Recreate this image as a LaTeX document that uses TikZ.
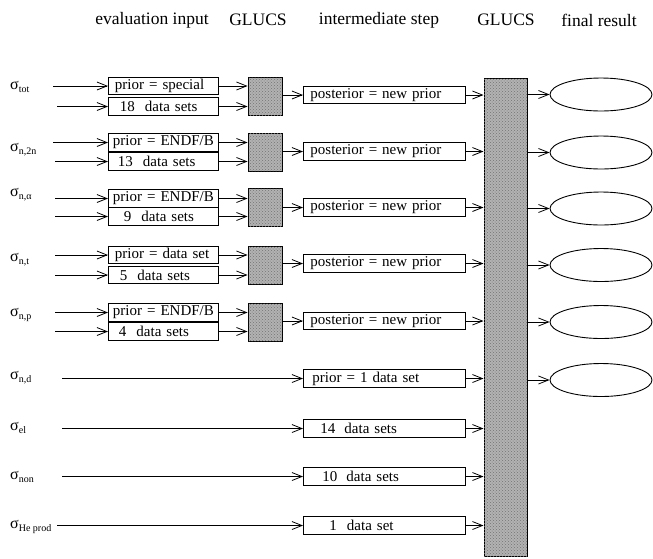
\documentclass[tikz,border=0pt]{standalone}
\usepackage{fontspec}
\setmainfont{Liberation Serif}
\usetikzlibrary{arrows.meta,shapes.geometric,patterns}
\newcommand\mysub[1]{\raisebox{-3pt}{\fontsize{10}{10}\selectfont #1}}
\begin{document}
\begin{tikzpicture}[x=1pt,y=-1pt,
 every node/.style={font=\fontsize{15}{17}\selectfont},
 arr/.style={-{Straight Barb[length=10pt,width=8pt]}, line width=0.8pt},
 hdr/.style={font=\fontsize{17.5}{20}\selectfont, inner sep=0pt},
 lab/.style={anchor=west, inner sep=0pt, font=\fontsize{16}{18}\selectfont},
 inbox/.style={draw, line width=0.9pt, minimum width=110pt, text width=101pt, align=left,
   minimum height=17.5pt, inner ysep=0pt, inner xsep=4.5pt, anchor=west},
 post/.style={draw, line width=0.9pt, minimum width=162pt, text width=148pt, align=left,
   minimum height=17.5pt, inner ysep=0pt, inner xsep=7pt, anchor=west},
 gl/.style={draw, line width=0.9pt, fill=gray!60, minimum width=34pt, minimum height=38pt, inner sep=0pt,
   postaction={pattern=crosshatch dots, pattern color=black!55}},
 colbox/.style={draw, line width=1pt, fill=gray!60, minimum width=43pt, minimum height=478pt, inner sep=0pt,
   postaction={pattern=crosshatch dots, pattern color=black!55}},
 ell/.style={draw, ellipse, line width=0.9pt, minimum width=102pt, minimum height=33pt, inner sep=0pt}
]
\useasboundingbox (0,0) rectangle (653,558);

% headers
\node[hdr] (h1) at (152,20) {evaluation input};
\node[hdr] (h2) at (258,20) {GLUCS};
\node[hdr] (h3) at (379,20) {intermediate step};
\node[hdr] (h4) at (506,20) {GLUCS};
\node[hdr] (h5) at (599,20) {final result};

% big GLUCS column
\node[colbox] (col) at (505.5,317) {};

% labels
\node[lab] (s1) at (10,87) {σ\mysub{tot}};
\node[lab] (s2) at (10,150) {σ\mysub{n,2n}};
\node[lab] (s3) at (10,195) {σ\mysub{n,α}};
\node[lab] (s4) at (10,260) {σ\mysub{n,t}};
\node[lab] (s5) at (10,315) {σ\mysub{n,p}};
\node[lab] (s6) at (10,378) {σ\mysub{n,d}};
\node[lab] (s7) at (10,428) {σ\mysub{el}};
\node[lab] (s8) at (10,477) {σ\mysub{non}};
\node[lab] (s9) at (10,527) {σ\mysub{He prod}};

% row 1
\node[inbox] (p1) at (108,86) {\hspace{2pt}prior = special};
\node[inbox] (d1) at (108,106.5) {\hspace{7pt}18\ \ data sets};
\node[gl] (g1) at (265,96) {};
\node[post] (q1) at (303,95) {posterior = new prior};
\node[ell] (e1) at (601,94.5) {};
% row 2
\node[inbox] (p2) at (108,142.5) {\mbox{prior = ENDF/B}};
\node[inbox] (d2) at (108,161.5) {\hspace{5pt}13\ \ data sets};
\node[gl] (g2) at (265,152) {};
\node[post] (q2) at (303,151.5) {posterior = new prior};
\node[ell] (e2) at (601,152.5) {};
% row 3
\node[inbox] (p3) at (108,198.5) {\mbox{prior = ENDF/B}};
\node[inbox] (d3) at (108,216.5) {\hspace{11pt}9\ \ data sets};
\node[gl] (g3) at (265,207.5) {};
\node[post] (q3) at (303,207.5) {posterior = new prior};
\node[ell] (e3) at (601,208.5) {};
% row 4
\node[inbox] (p4) at (108,255) {\hspace{2pt}prior = data set};
\node[inbox] (d4) at (108,275) {\hspace{7pt}5\ \ data sets};
\node[gl] (g4) at (265,265.5) {};
\node[post] (q4) at (303,263.5) {posterior = new prior};
\node[ell] (e4) at (601,265) {};
% row 5
\node[inbox] (p5) at (108,312.5) {\mbox{prior = ENDF/B}};
\node[inbox] (d5) at (108,331.5) {\hspace{6pt}4\ \ data sets};
\node[gl] (g5) at (265,322.5) {};
\node[post] (q5) at (303,321) {posterior = new prior};
\node[ell] (e5) at (601,322) {};
% rows 6-9
\node[post] (q6) at (303,378.5) {\hspace{2pt}prior = 1 data set};
\node[ell] (e6) at (601,380) {};
\node[post] (q7) at (303,428.5) {\hspace{10pt}14\hspace{9pt}data sets};
\node[post] (q8) at (303,476.5) {\hspace{12pt}10\hspace{9pt}data sets};
\node[post] (q9) at (303,525.5) {\hspace{19pt}1\hspace{10pt}data set};

% input start points
\coordinate (a1) at (53,86);   \coordinate (b1) at (57,106.5);
\coordinate (a2) at (53,142.5); \coordinate (b2) at (55,161.5);
\coordinate (a3) at (55,198.5); \coordinate (b3) at (55,216.5);
\coordinate (a4) at (55,255);  \coordinate (b4) at (55,275);
\coordinate (a5) at (55,312.5); \coordinate (b5) at (55,331.5);
\coordinate (a6) at (62,378.5);
\coordinate (a7) at (62,428.5);
\coordinate (a8) at (62,476.5);
\coordinate (a9) at (57,525.5);

\foreach \i in {1,...,5}{
  \draw[arr] (a\i) -- (p\i.west);
  \draw[arr] (b\i) -- (d\i.west);
  \draw[arr] (p\i.east) -- (p\i.east -| g\i.west);
  \draw[arr] (d\i.east) -- (d\i.east -| g\i.west);
  \draw[arr] (g\i.east |- q\i.west) -- (q\i.west);
}
\foreach \i in {6,...,9}{
  \draw[arr] (a\i) -- (q\i.west);
}
\foreach \i in {1,...,9}{
  \draw[arr] (q\i.east) -- (q\i.east -| col.west);
}
\foreach \i in {1,...,6}{
  \draw[arr] (col.east |- e\i.west) -- (e\i.west);
}
\end{tikzpicture}
\end{document}
